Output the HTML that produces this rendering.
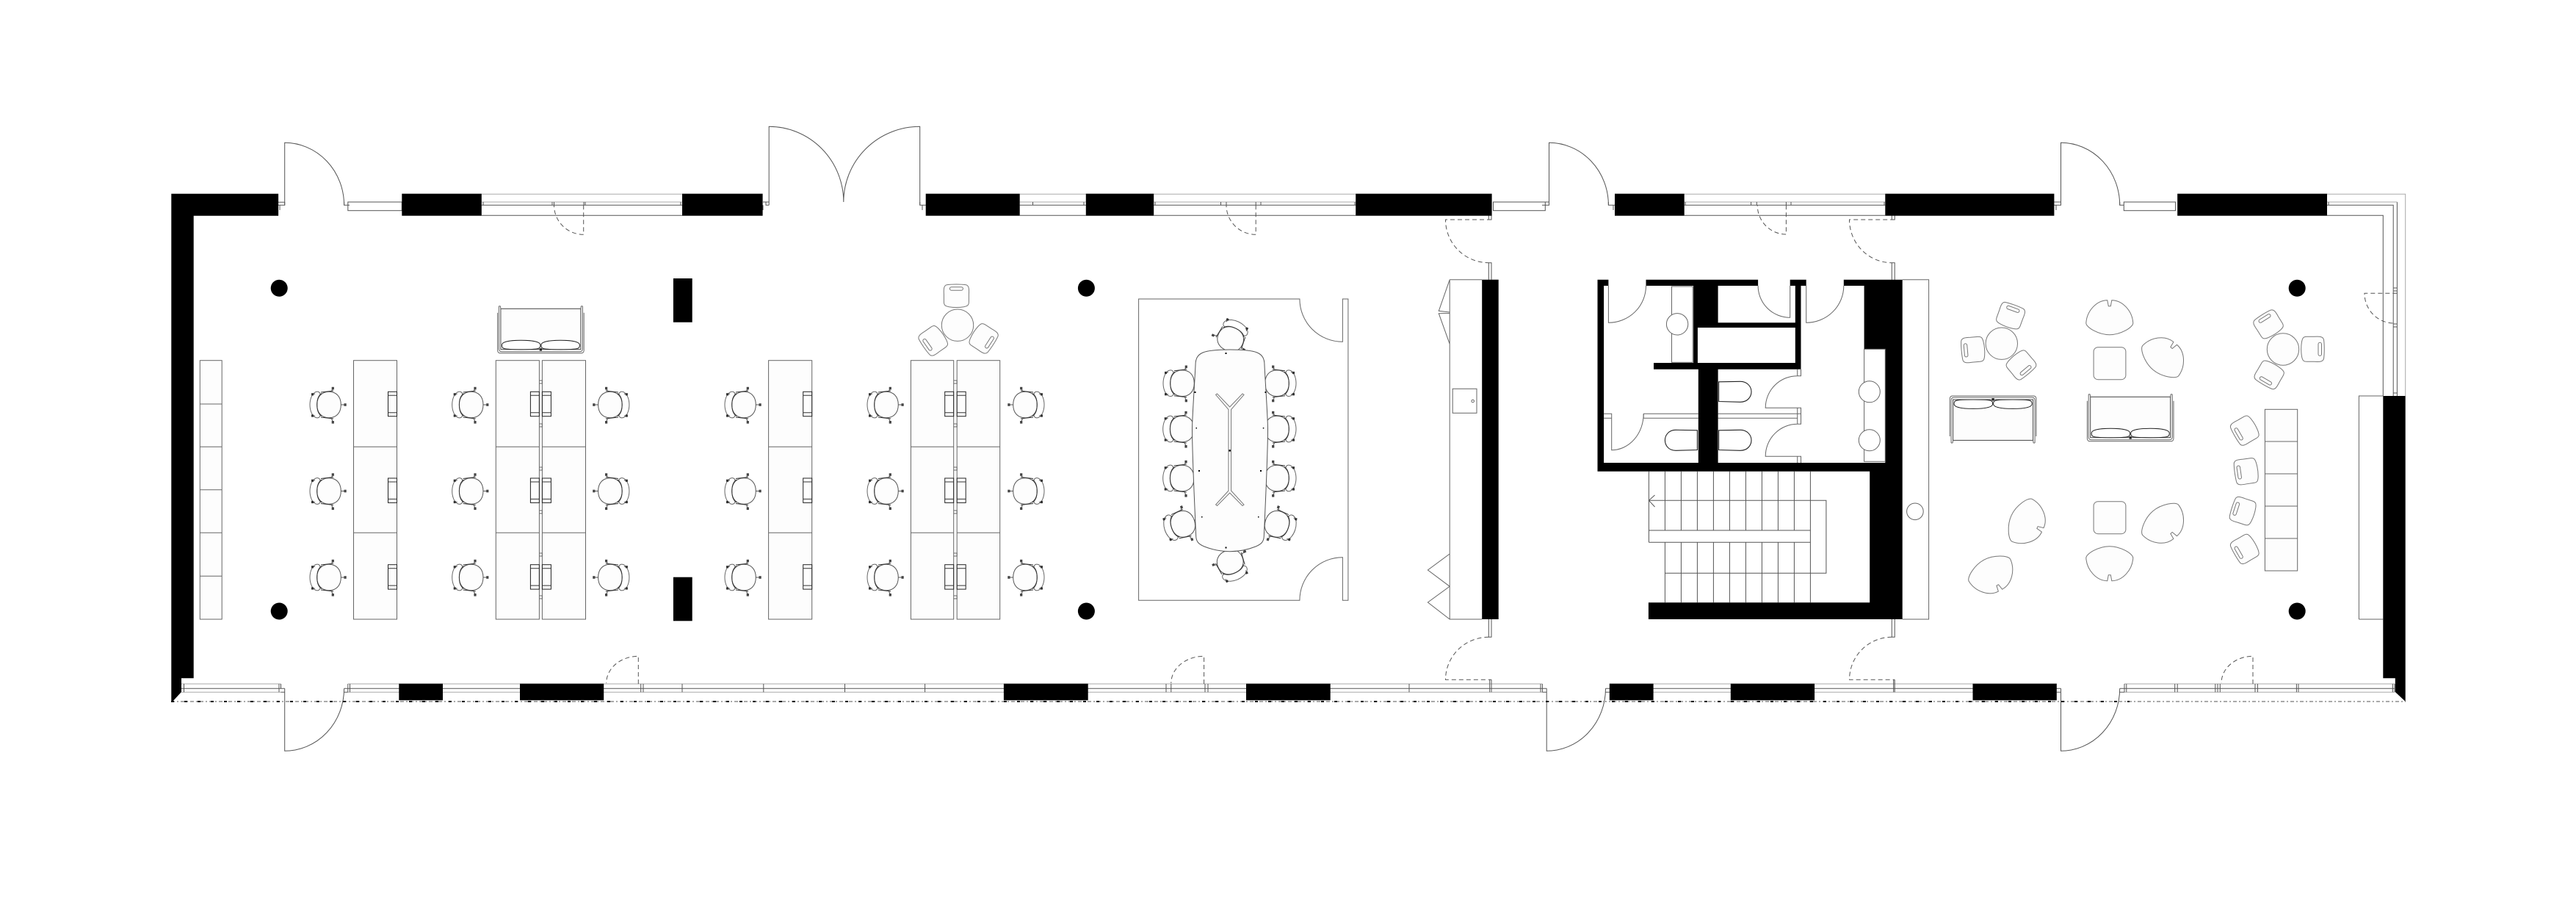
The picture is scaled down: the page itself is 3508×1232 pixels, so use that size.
<!DOCTYPE html>
<html><head><meta charset="utf-8"><title>Floor plan</title>
<style>html,body{margin:0;padding:0;background:#fff}svg{display:block}</style></head>
<body>
<svg xmlns="http://www.w3.org/2000/svg" width="3508" height="1232" viewBox="0 0 3508 1232">
<defs>
<g id="c">
 <path d="M-19,-17 C-24,-14 -26,-6 -26,0 C-26,6 -24,14 -19,17 C-15,19 -12,17 -12,14 L-12,-14 C-12,-17 -15,-19 -19,-17Z" fill="#fff" stroke="#666" stroke-width="1"/>
 <path d="M-16.3,0 C-16.3,-12 -9,-17.8 0,-17.8 C9,-17.8 16.3,-12 16.3,0 C16.3,12 9,17.8 0,17.8 C-9,17.8 -16.3,12 -16.3,0Z" fill="#fdfdfd" stroke="#555" stroke-width="1"/>
 <path d="M-16.3,0 C-16.3,-8 -14,-13 -10,-15.5 M-16.3,0 C-16.3,8 -14,13 -10,15.5 M-11,-17 L6,-19 M-11,17 L6,19" fill="none" stroke="#333" stroke-width="1"/>
 <path d="M3,-18 L5.3,-22 M3,18 L5.3,23 M16.5,0 L21,0 M-19,-15 L-22,-14 M-19,15 L-22,15" stroke="#555" stroke-width="1"/>
 <rect x="3.7" y="-24.2" width="3.2" height="3.6" fill="#444"/><rect x="3.7" y="22" width="3.2" height="3.6" fill="#444"/><rect x="20.5" y="-1.8" width="3.2" height="3.6" fill="#444"/><rect x="-24" y="-15.8" width="3" height="3.2" fill="#333"/><rect x="-24" y="13.4" width="3" height="3.2" fill="#333"/>
</g>
<g id="m"><rect x="0" y="0" width="12" height="33.4" fill="none" stroke="#222" stroke-width="1"/><path d="M0,5 H12 M0,28.4 H12" stroke="#333" stroke-width="1"/></g>
<g id="s">
 <path d="M-13,-15 C-6,-16 6,-16 13,-15 C17,-14 17.5,-10 17,-2 L17,8 C17,13 15,14 10,15 C4,16 -4,16 -10,15 C-15,14 -17,13 -17,8 L-17,-2 C-17.5,-10 -17,-14 -13,-15Z" fill="#fdfdfd" stroke="#777" stroke-width="1"/>
 <rect x="-9" y="-12" width="18" height="4.5" rx="2.2" fill="#fff" stroke="#777" stroke-width="1"/>
</g>
<path id="l" d="M-3,-23 C-18,-23 -31,-8 -32,8 C-32,14 -15,24 0,24 C15,24 32,14 32,8 C31,-8 18,-23 3,-23 L1.5,-15 L-1.5,-15 Z" fill="#fdfdfd" stroke="#777" stroke-width="1"/>
<g id="f">
 <rect x="-54.5" y="-30.4" width="109" height="55.4" fill="#fdfdfd" stroke="#444" stroke-width="1"/>
 <path d="M-53,19 C-53,14 -40,12.6 -27,12.6 C-14,12.6 -0.5,14 -0.5,19 C-0.5,24 -1,25 -27,25 C-52,25 -53,24 -53,19Z M53,19 C53,14 40,12.6 27,12.6 C14,12.6 0.5,14 0.5,19 C0.5,24 1,25 27,25 C52,25 53,24 53,19Z" fill="#fff" stroke="#222" stroke-width="1"/>
 <path d="M-58.8,-25 V26 Q-58.8,30 -55,30 H55 Q58.8,30 58.8,26 V-25 M-57,-26 V24 Q-57,28 -53,28 H53 Q57,28 57,24 V-26 M-55,-34 L-54.5,-30 M55,-34 L54.5,-30 M-57,-34 H-55 M55,-34 H57 M-57,-34 V-26 M57,-34 V-26" fill="none" stroke="#666" stroke-width="1"/>
 <rect x="-1.6" y="23.5" width="3.2" height="3.4" fill="#222"/>
</g>
</defs>
<rect width="3508" height="1232" fill="#fff"/>

<!-- glazing lines, top -->
<g fill="none" stroke="#555" stroke-width="1">
 <path d="M655.8,293.3H929 M1388.7,293.3H1478.8 M1571.2,293.3H1846.2 M2293.7,293.3H2567.3 M3169,293.3H3245.3V539"/>
 <path d="M655.8,279.3H929 M1388.7,279.3H1478.8 M1571.2,279.3H1846.2 M2293.7,279.3H2567.3 M3169,279.3H3259.2V539 M3264.4,275V539"/>
 <g stroke="#aaa"><path d="M655.8,264.3H929 M1388.7,264.3H1846.2 M2293.7,264.3H2567.3 M3169,264.3H3275.7V539 M655.8,275H929 M1388.7,275H1478.8 M1571.2,275H1846.2 M2293.7,275H2567.3 M3169,275H3264.4"/></g>
 <rect x="473.8" y="275" width="73.5" height="11.7"/><rect x="2033.5" y="275" width="70.8" height="11.7"/><rect x="2892.3" y="275" width="70.3" height="11.7"/>
 <!-- jambs -->
 <path d="M379,275.2H387.7V279.3H379 M381,279.3V286 M468.6,275V279.3H476 M1043,275V279.3H1047.2 M1039,275H1047.2 M1039,279.3V286 M1252.7,275V279.3H1260.7 M1256,279.3V286 M2104.3,275H2109.5V279.3H2100 M2190.4,275V279.3H2199 M2197,279.3V286 M2797.4,275H2806.5V279.3H2797.4 M2800,279.3V286 M2886.7,275V279.3H2892.3"/>
 <path d="M658,275V279.3 M752,275V279.3 M754.5,275V279.3 M795,275V279.3 M797,275V279.3 M927,275V279.3 M1406.5,275V279.3 M1476,275V279.3 M1573,275V279.3 M1662.5,275V279.3 M1670,275V279.3 M1710.2,275V279.3 M1717,275V279.3 M1845,275V279.3 M2295,275V279.3 M2384.6,275V279.3 M2392.3,275V279.3 M2432.4,275V279.3 M2439,275V279.3 M2566,275V279.3 M3171,275V279.3 M3259.2,392H3264.4 M3259.2,396H3264.4 M3259.2,441H3264.4 M3259.2,445H3264.4 M3259.2,535H3264.4"/>
 <!-- top door leaves & arcs -->
 <path d="M387.7,279.3V194.3 A81,85 0 0 1 468.6,279.3"/>
 <path d="M1047.2,279.3V172.3 A101.6,102.7 0 0 1 1148.8,275 A103.9,102.7 0 0 1 1252.7,172.3 V279.3"/>
 <path d="M2109.5,279.3V194.3 A81,85 0 0 1 2190.4,279.3"/>
 <path d="M2806.5,279.3V194.3 A80.2,85 0 0 1 2886.7,279.3"/>
 <!-- bottom glazing -->
 <g stroke="#aaa"><path d="M247,931H382.5 M473.8,931H2100.4 M2191.8,931H2801 M2893,931H3261 M247,942.3H382.5 M473.8,942.3H2100.4 M2191.8,942.3H2801 M2893,942.3H3261"/></g>
 <path d="M247,937.3H387.7 M468.6,937.3H2106.2 M2186.5,937.3H2806.5 M2886.7,937.3H3261"/>
 <path d="M250.5,931V942.3 M380,931V942.3 M382.5,931V937.3 M473.8,931V942.3 M476.5,931V942.3 M872.7,931V942.3 M876,931V942.3 M929,931V942.3 M1039.8,931V942.3 M1150.5,931V942.3 M1259.6,931V942.3 M1588,931V942.3 M1594.8,931V942.3 M1641,931V942.3 M1645,931V942.3 M1919,931V942.3 M2028.7,925.3V942.3 M2031,925.3V942.3 M2098,931V942.3 M2100.4,931V942.3 M2578.7,925.3V942.3 M2580.2,925.3V942.3 M2893,931V942.3 M2895.8,931V942.3 M2961.7,931V942.3 M2965.2,931V942.3 M3016.8,931V942.3 M3020,931V942.3 M3023.3,931V942.3 M3071,931V942.3 M3074.4,931V942.3 M3127.4,931V942.3 M3130,931V942.3 M3258.3,931V942.3 M3261,931V942.3"/>
 <path d="M382.5,942.3H387.7 M468.6,942.3H473.8 M2100.4,942.3H2106.2 M2186.5,942.3H2191.8 M2801,942.3H2806.5 M2886.7,942.3H2893"/>
 <!-- bottom door leaves -->
 <path d="M387.7,937.3V1022.3 A81,85 0 0 0 468.6,937.3"/>
 <path d="M2106.2,937.3V1022.3 A80.3,85 0 0 0 2186.5,937.3"/>
 <path d="M2806.5,937.3V1022.3 A80.2,85 0 0 0 2886.7,937.3"/>
</g>
<!-- dash-dot line -->
<path d="M233,955H3276" fill="none" stroke="#aaa" stroke-width="2" stroke-dasharray="5 3 2 3"/>
<path d="M233,955H2900" fill="none" stroke="#000" stroke-width="2" stroke-dasharray="4 14"/>

<!-- dashed doors -->
<g fill="none" stroke="#555" stroke-width="1" stroke-dasharray="6 4">
 <path d="M794.7,279.3V319.3 A40.2,40 0 0 1 754.5,279.3"/>
 <path d="M1710.2,279.3V319.3 A40.2,40 0 0 1 1670,279.3"/>
 <path d="M2432.4,279.3V319 A39.2,39.7 0 0 1 2393.2,279.3"/>
 <path d="M869.3,931V893.3 A43.6,36.7 0 0 0 825.7,930"/>
 <path d="M1639.6,931V893.3 A44.8,36.7 0 0 0 1594.8,930"/>
 <path d="M3068,931V893.3 A43,36.7 0 0 0 3025,930"/>
 <path d="M2031,299H1968.5 A58.8,58.7 0 0 0 2027.3,357.7"/>
 <path d="M2580.2,299H2518.5 A57.8,58.7 0 0 0 2576.3,357.7"/>
 <path d="M2027.3,867.3 A58.8,58 0 0 0 1968.5,925.3H2031"/>
 <path d="M2576.3,867.3 A57.8,58 0 0 0 2518.5,925.3H2580.2"/>
 <path d="M3264.3,399.3H3220 A40,40.7 0 0 0 3260,440"/>
</g>
<g fill="none" stroke="#555" stroke-width="1">
 <path d="M2031,293.3V299H2027.3V293.3 M2580.2,293.3V299H2576.3V293.3"/>
 <path d="M2027.3,380.7V357.7H2031V380.7 M2576.3,380.7V357.7H2580.2V380.7"/>
 <path d="M2027.3,843V867.3H2031V843 M2576.3,843V867.3H2580.2V843"/>
</g>

<!-- black walls -->
<g fill="#000">
 <path d="M233.3,263.7H379.1V293.7H263.7V923.3H247V942L235,955H233.3Z"/>
 <rect x="547.3" y="263.7" width="108.5" height="30"/><rect x="929" y="263.7" width="109.6" height="30"/>
 <rect x="1260.7" y="263.7" width="128" height="30"/><rect x="1478.8" y="263.7" width="92.4" height="30"/>
 <rect x="1846.2" y="263.7" width="185.4" height="30"/><rect x="2199" y="263.7" width="94.7" height="30"/>
 <rect x="2567.3" y="263.7" width="230.1" height="30"/><rect x="2965.2" y="263.7" width="203.8" height="30"/>
 <path d="M3245.3,539H3275.7V955L3261.8,942V923.3H3245.3Z"/>
 <rect x="543.3" y="930.7" width="59.7" height="22.6"/><rect x="708" y="930.7" width="114.2" height="22.6"/>
 <rect x="1366.9" y="930.7" width="114.8" height="22.6"/><rect x="1697" y="930.7" width="114.7" height="22.6"/>
 <rect x="2191.8" y="930.7" width="59.8" height="22.6"/><rect x="2356.8" y="930.7" width="114.3" height="22.6"/>
 <rect x="2686.5" y="930.7" width="114.3" height="22.6"/>
 <rect x="916.9" y="379" width="25.8" height="59.7"/><rect x="916.9" y="785.7" width="25.8" height="59.6"/>
 <rect x="2018.2" y="380.7" width="22.5" height="462.3"/>
 <circle cx="380.2" cy="392.3" r="11.5"/><circle cx="380.2" cy="832" r="11.5"/>
 <circle cx="1479.4" cy="392.3" r="11.5"/><circle cx="1479.4" cy="832" r="11.5"/>
 <circle cx="3128.2" cy="392.3" r="11.5"/><circle cx="3128.2" cy="832" r="11.5"/>
 <!-- core -->
 <path d="M2175.5,380.7H2190.4V389H2184.1V630H2312.8V502.7H2252V494H2306.1V446H2311.9V494H2444.8V446H2311.9V446H2306.1V389H2241.5V380.7H2394.1V389H2339.6V439.3H2444.8V389H2437.7V380.7H2459.7V389H2452.5V502.7H2339.6V630H2567.3V475H2538.6V389H2510.8V380.7H2590.7V843H2244.9V820.3H2546.2V641.7H2175.5Z" fill-rule="evenodd"/>
</g>

<!-- cabinet / wall lines -->
<g fill="none" stroke="#666" stroke-width="1">
 <path d="M1974.2,380.7H2018.2 M1974.2,380.7L1959.3,423.3L1974.2,425 M1974.2,426.5L1959.3,426.7L1974.2,468.3 M1974.2,380.7V843 M1974.2,754L1944.4,776L1974.2,798.3L1944.4,820L1974.2,843H2018.2"/>
 <rect x="1978.2" y="529.3" width="32.8" height="33"/><circle cx="2005.7" cy="546" r="1.8"/>
 <path d="M2590.7,380.7H2626.6V843H2590.7"/>
 <circle cx="2607.9" cy="696.3" r="11.3"/>
 <!-- WC fittings -->
 <rect x="2276.5" y="390" width="28.7" height="103.3" fill="#fff"/><circle cx="2284.1" cy="441.3" r="14.7" fill="#fff"/>
 <rect x="2538.6" y="475.3" width="28.7" height="153" fill="#fff"/><circle cx="2545.8" cy="533.3" r="14.5" fill="#fff"/><circle cx="2545.8" cy="599.3" r="14.5" fill="#fff"/>
 <path d="M2190.4,389V439.3 A51.1,50.3 0 0 0 2241.5,389"/>
 <path d="M2437.7,389V432.3 A43.6,43.3 0 0 1 2394.1,389"/>
 <path d="M2459.7,389V439.3 A51.1,50.3 0 0 0 2510.8,389"/>
 <path d="M2452.5,502.7V511.7H2447.7 A43.5,43.6 0 0 0 2404.2,555.3H2452.5V577.3H2447.7 A43.5,44 0 0 0 2404.2,621.3H2452.5V630 M2447.7,502.7V511.7 M2447.7,555.3V577.3 M2447.7,621.3V630"/>
 <path d="M2238.2,563.3V569.3H2312.8 M2238.2,563.3H2312.8 M2339.6,563.3H2452.5 M2339.6,569.3H2447.7"/>
 <path d="M2184.1,563.3H2194.7V612.7 A43.5,49.4 0 0 0 2238.2,563.3 M2184.1,569.3H2194.7"/>
</g>
<g fill="#fff" stroke="#222" stroke-width="1.1">
 <path d="M2340.6,519.8L2370,519.3C2380,519.3 2385,527 2385,533.3C2385,540 2380,547.3 2370,547.3L2340.6,546.5Z"/>
 <path d="M2340.6,585.8L2370,585.3C2380,585.3 2385,593 2385,599.3C2385,606 2380,613.3 2370,613.3L2340.6,612.5Z"/>
 <path d="M2311.4,585.8L2282,585.3C2272,585.3 2267.4,593 2267.4,599.3C2267.4,606 2272,613.3 2282,613.3L2311.4,612.5Z"/>
</g>
<!-- stairs -->
<g fill="none" stroke="#555" stroke-width="1">
 <path d="M2245.4,641.7V738.3 M2267.4,641.7V722 M2289.4,641.7V722 M2311.4,641.7V722 M2333.4,641.7V722 M2355.4,641.7V722 M2377.4,641.7V722 M2399.4,641.7V722 M2421.4,641.7V722 M2443.4,641.7V722 M2465.4,641.7V820.3"/>
 <path d="M2267.4,738.3V820.3 M2289.4,738.3V820.3 M2311.4,738.3V820.3 M2333.4,738.3V820.3 M2355.4,738.3V820.3 M2377.4,738.3V820.3 M2399.4,738.3V820.3 M2421.4,738.3V820.3 M2443.4,738.3V820.3"/>
 <path d="M2245.4,722H2465.4 M2245.4,738.3H2465.4"/>
 <path d="M2245.4,681.3H2486.9V780.3H2267.4"/>
 <path d="M2253.5,674L2245.4,681.3L2253.5,690"/>
</g>

<!-- benches and desks -->
<g fill="#fdfdfd" stroke="#666" stroke-width="1">
 <rect x="272.3" y="490.7" width="29.9" height="352.3"/>
 <path d="M272.3,550H302.2 M272.3,608.3H302.2 M272.3,666.7H302.2 M272.3,725.3H302.2 M272.3,784.3H302.2" fill="none"/>
 <rect x="481.5" y="490.7" width="59" height="352.3"/>
 <rect x="675.3" y="490.7" width="59.1" height="352.3"/><rect x="738.4" y="490.7" width="59.1" height="352.3"/>
 <rect x="1046.6" y="490.7" width="59.1" height="352.3"/>
 <rect x="1240.4" y="490.7" width="58.3" height="352.3"/><rect x="1303.2" y="490.7" width="58.5" height="352.3"/>
 <path d="M481.5,608.3H540.5 M481.5,725.3H540.5 M675.3,608.3H734.4 M675.3,725.3H734.4 M738.4,608.3H797.5 M738.4,725.3H797.5 M1046.6,608.3H1105.7 M1046.6,725.3H1105.7 M1240.4,608.3H1298.7 M1240.4,725.3H1298.7 M1303.2,608.3H1361.7 M1303.2,725.3H1361.7" fill="none"/>
 <path d="M734.4,518H738.4V522H734.4 M734.4,577H738.4V581H734.4 M734.4,636H738.4V640H734.4 M734.4,695H738.4V699H734.4 M734.4,753H738.4V757H734.4 M734.4,811H738.4V815H734.4 M1298.7,518H1303.2V522H1298.7 M1298.7,577H1303.2V581H1298.7 M1298.7,636H1303.2V640H1298.7 M1298.7,695H1303.2V699H1298.7 M1298.7,753H1303.2V757H1298.7 M1298.7,811H1303.2V815H1298.7" fill="none"/>
 <rect x="3084.4" y="557.3" width="44.3" height="219.7"/>
 <path d="M3084.4,601H3128.7 M3084.4,645H3128.7 M3084.4,689H3128.7 M3084.4,733H3128.7" fill="none"/>
 <path d="M3212.4,843V539H3245.3 M3212.4,843H3245.3" fill="none"/>
</g>
<!-- monitors -->
<g>
<use href="#m" x="528.5" y="533.3"/><use href="#m" x="528.5" y="651"/><use href="#m" x="528.5" y="768.7"/>
<use href="#m" x="722.4" y="533.3"/><use href="#m" x="722.4" y="651"/><use href="#m" x="722.4" y="768.7"/>
<use href="#m" x="738.4" y="533.3"/><use href="#m" x="738.4" y="651"/><use href="#m" x="738.4" y="768.7"/>
<use href="#m" x="1093.7" y="533.3"/><use href="#m" x="1093.7" y="651"/><use href="#m" x="1093.7" y="768.7"/>
<use href="#m" x="1286.7" y="533.3"/><use href="#m" x="1286.7" y="651"/><use href="#m" x="1286.7" y="768.7"/>
<use href="#m" x="1303.2" y="533.3"/><use href="#m" x="1303.2" y="651"/><use href="#m" x="1303.2" y="768.7"/>
</g>
<!-- office chairs -->
<g>
<use href="#c" transform="translate(448,551)"/><use href="#c" transform="translate(448,668.5)"/><use href="#c" transform="translate(448,786)"/>
<use href="#c" transform="translate(641.7,551)"/><use href="#c" transform="translate(641.7,668.5)"/><use href="#c" transform="translate(641.7,786)"/>
<use href="#c" transform="translate(830.9,551) scale(-1,1)"/><use href="#c" transform="translate(830.9,668.5) scale(-1,1)"/><use href="#c" transform="translate(830.9,786) scale(-1,1)"/>
<use href="#c" transform="translate(1013,551)"/><use href="#c" transform="translate(1013,668.5)"/><use href="#c" transform="translate(1013,786)"/>
<use href="#c" transform="translate(1207,551)"/><use href="#c" transform="translate(1207,668.5)"/><use href="#c" transform="translate(1207,786)"/>
<use href="#c" transform="translate(1396,551) scale(-1,1)"/><use href="#c" transform="translate(1396,668.5) scale(-1,1)"/><use href="#c" transform="translate(1396,786) scale(-1,1)"/>
</g>
<use href="#f" transform="translate(736.4,450.7)"/>
<use href="#f" transform="translate(2714.1,569) scale(1,-1)"/>
<use href="#f" transform="translate(2901.2,570.7)"/>

<!-- stool group near desks -->
<g fill="#fdfdfd" stroke="#777" stroke-width="1">
 <circle cx="1304" cy="442.7" r="21.7"/><circle cx="2725.8" cy="467.7" r="21.7"/><circle cx="3109" cy="475.5" r="21.7"/>
 <rect x="2851.1" y="472.7" width="43.8" height="44" rx="6"/><rect x="2851.1" y="682.7" width="43.8" height="44" rx="6"/>
</g>
<use href="#s" transform="translate(1302.4,402.7)"/>
<use href="#s" transform="translate(1271,463.7) rotate(-125)"/>
<use href="#s" transform="translate(1339.3,460.7) rotate(123)"/>
<use href="#s" transform="translate(2738,430) rotate(20)"/>
<use href="#s" transform="translate(2686.8,476) rotate(-95)"/>
<use href="#s" transform="translate(2752.3,496.7) rotate(140)"/>
<use href="#s" transform="translate(3089.2,441.7) rotate(-32)"/>
<use href="#s" transform="translate(3149.5,475.3) rotate(90)"/>
<use href="#s" transform="translate(3090.3,510) rotate(-150)"/>
<use href="#s" transform="translate(3057.1,586) rotate(-120)"/>
<use href="#s" transform="translate(3058.9,641.7) rotate(-98)"/>
<use href="#s" transform="translate(3054.5,695.7) rotate(-72)"/>
<use href="#s" transform="translate(3057.1,747.3) rotate(-120)"/>
<!-- lounge -->
<use href="#l" transform="translate(2872.8,431.7)"/>
<use href="#l" transform="translate(2947.4,485) rotate(40)"/>
<use href="#l" transform="translate(2872.8,767.7) rotate(180)"/>
<use href="#l" transform="translate(2947.4,714) rotate(140)"/>
<use href="#l" transform="translate(2760.9,711.7) rotate(115)"/>
<use href="#l" transform="translate(2713.2,783.3) rotate(152)"/>

<!-- conference -->
<path d="M1550.6,817.3V407H1769.9 A58.5,58.3 0 0 0 1828.4,465.3V407H1835.9V817.3H1828.4V758.7 A58.5,58.6 0 0 0 1769.9,817.3Z" fill="#fff" stroke="#666" stroke-width="1"/>
<use href="#c" transform="translate(1610,521.7)"/><use href="#c" transform="translate(1609.7,584)"/><use href="#c" transform="translate(1609.7,651)"/>
<use href="#c" transform="translate(1610.9,713.3) rotate(-18)"/>
<use href="#c" transform="translate(1739,521.7) scale(-1,1)"/><use href="#c" transform="translate(1739,584) scale(-1,1)"/><use href="#c" transform="translate(1739,651) scale(-1,1)"/>
<use href="#c" transform="translate(1739,713.3) scale(-1,1) rotate(-18)"/>
<use href="#c" transform="translate(1675.7,461.7) rotate(115)"/>
<use href="#c" transform="translate(1675.2,765) rotate(-113)"/>
<path d="M1675,476 C1660,476 1645,477 1638,480 C1631,483 1628,488 1628,497 C1627,520 1624,560 1623.5,583 C1623.5,620 1627,690 1628.7,730 C1629,738 1633,741 1640,744 C1650,748 1662,750.7 1675,750.7 C1688,750.7 1700,748 1710,744 C1717,741 1721,738 1721.3,730 C1723,690 1726.5,620 1726.5,583 C1726,560 1723,520 1722,497 C1722,488 1719,483 1712,480 C1705,477 1690,476 1675,476Z" fill="#fdfdfd" stroke="#555" stroke-width="1"/>
<path d="M1655.6,537.3L1673,557.5V668L1655.6,687L1657.5,688.5L1674.7,671L1692,688.5L1694,687L1676.5,668V557.5L1694,537.3L1692,536L1674.7,554L1657.5,536Z" fill="#fff" stroke="#777" stroke-width="1"/>
<g fill="#000"><rect x="1668.5" y="480" width="2" height="2"/><rect x="1626.5" y="533" width="2" height="2"/><rect x="1722.5" y="533" width="2" height="2"/><rect x="1628.5" y="582" width="1.5" height="1.5"/><rect x="1719.8" y="582" width="1.5" height="1.5"/><rect x="1673.5" y="612.2" width="2.4" height="2.4"/><rect x="1632" y="640" width="2" height="2"/><rect x="1716" y="640" width="2" height="2"/><rect x="1636" y="703" width="1.5" height="1.5"/><rect x="1713" y="703" width="1.5" height="1.5"/><rect x="1668.5" y="744.5" width="2" height="2"/></g>
</svg>
</body></html>
